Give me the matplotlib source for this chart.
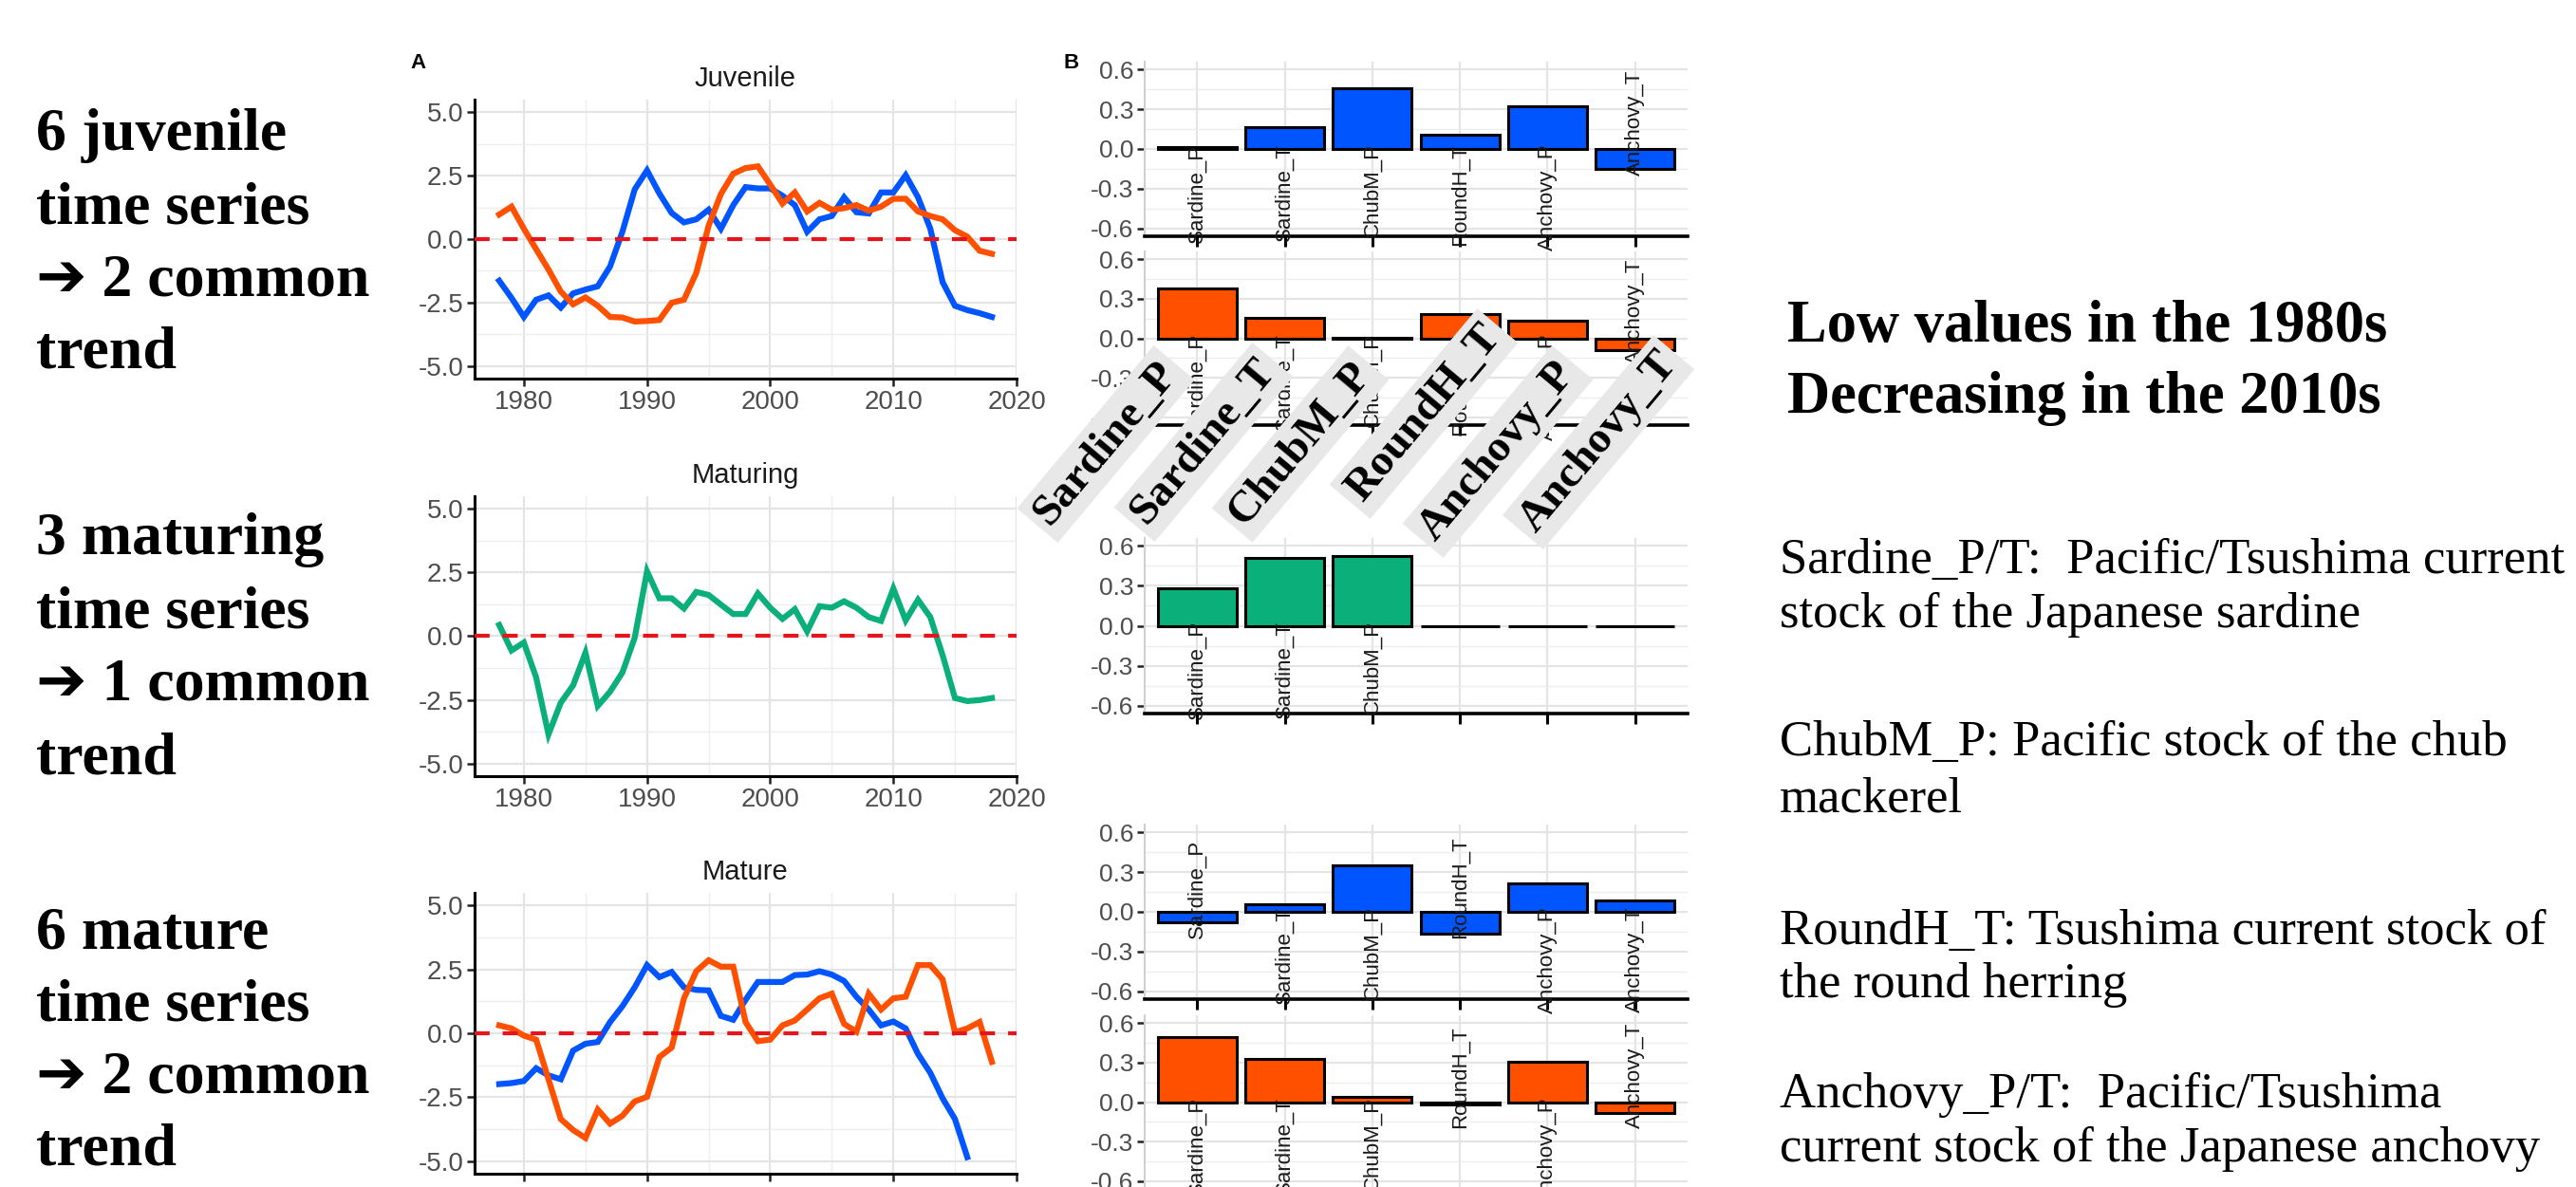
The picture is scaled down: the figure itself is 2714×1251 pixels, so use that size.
import numpy as np
import matplotlib
matplotlib.use("Agg")
import matplotlib.pyplot as plt

plt.rcParams['axes.unicode_minus'] = False
plt.rcParams['font.family'] = ['Liberation Sans', 'DejaVu Sans']

W, H = 2714, 1251
BLUE = '#0055FF'
ORANGE = '#FF5000'
GREEN = '#0AAF7A'
RED = '#E8141C'

# ---- data ----
years = list(range(1978, 2019))

juv_trend1 = [-1.64, -2.32, -3.07, -2.39, -2.22, -2.70, -2.14, -1.99, -1.86, -1.08,
              0.29, 1.96, 2.71, 1.80, 1.03, 0.66, 0.78, 1.16, 0.41, 1.34,
              2.05, 2.00, 2.00, 1.71, 1.34, 0.29, 0.78, 0.91, 1.65, 1.06,
              1.01, 1.84, 1.84, 2.52, 1.65, 0.41, -1.70, -2.63, -2.80, -2.92, -3.07]
juv_trend2 = [0.97, 1.28, 0.41, -0.40, -1.20, -2.07, -2.57, -2.30, -2.63, -3.07,
              -3.09, -3.25, -3.23, -3.19, -2.51, -2.39, -1.33, 0.53, 1.78, 2.58,
              2.80, 2.87, 2.15, 1.40, 1.84, 1.09, 1.43, 1.16, 1.22, 1.34,
              1.12, 1.28, 1.59, 1.59, 1.09, 0.91, 0.78, 0.35, 0.10, -0.46, -0.58]
mat_trend1 = [0.44, -0.56, -0.25, -1.62, -3.86, -2.61, -1.93, -0.65, -2.74, -2.18,
              -1.43, -0.06, 2.55, 1.49, 1.49, 1.09, 1.74, 1.62, 1.24, 0.87,
              0.87, 1.68, 1.12, 0.68, 1.06, 0.19, 1.18, 1.12, 1.37, 1.12,
              0.75, 0.60, 1.87, 0.62, 1.43, 0.75, -0.75, -2.43, -2.55, -2.51, -2.43]
adu_trend1 = [-1.99, -1.95, -1.87, -1.37, -1.65, -1.80, -0.68, -0.41, -0.34, 0.44,
              1.06, 1.80, 2.67, 2.20, 2.40, 1.80, 1.70, 1.68, 0.68, 0.53,
              1.31, 2.01, 2.01, 2.01, 2.28, 2.30, 2.43, 2.30, 2.05, 1.43,
              0.93, 0.31, 0.46, 0.19, -0.81, -1.55, -2.55, -3.36, -4.85]
adu_trend2 = [0.31, 0.19, -0.09, -0.25, -1.80, -3.36, -3.79, -4.10, -2.99, -3.54,
              -3.23, -2.67, -2.49, -0.93, -0.56, 1.37, 2.43, 2.86, 2.61, 2.61,
              0.44, -0.31, -0.25, 0.31, 0.50, 0.93, 1.37, 1.55, 0.37, 0.06,
              1.55, 0.93, 1.37, 1.43, 2.67, 2.67, 2.11, 0.04, 0.19, 0.44, -1.12]

stocks = ['Sardine_P', 'Sardine_T', 'ChubM_P', 'RoundH_T', 'Anchovy_P', 'Anchovy_T']
juv_load1 = [0.015, 0.167, 0.46, 0.107, 0.32, -0.148]
juv_load2 = [0.376, 0.158, 0.005, 0.187, 0.135, -0.09]
mat_load1 = [0.279, 0.51, 0.522, 0.0, 0.0, 0.0]
adu_load1 = [-0.076, 0.055, 0.348, -0.167, 0.214, 0.086]
adu_load2 = [0.495, 0.331, 0.038, -0.015, 0.31, -0.086]

left_blocks = [['6 juvenile', 'time series', '\u2794 2 common', 'trend'],
               ['3 maturing', 'time series', '\u2794 1 common', 'trend'],
               ['6 mature', 'time series', '\u2794 2 common', 'trend']]
headline = ['Low values in the 1980s', 'Decreasing in the 2010s']
notes = ['Sardine_P/T:  Pacific/Tsushima current', 'stock of the Japanese sardine',
         'ChubM_P: Pacific stock of the chub', 'mackerel',
         'RoundH_T: Tsushima current stock of', 'the round herring',
         'Anchovy_P/T:  Pacific/Tsushima', 'current stock of the Japanese anchovy']


def box(x0, y0, x1, y1):
    return [x0 / W, 1 - y1 / H, (x1 - x0) / W, (y1 - y0) / H]


def style_common(ax, lsize):
    for s in ['top', 'right']:
        ax.spines[s].set_visible(False)
    ax.set_axisbelow(True)
    ax.grid(which='major', color='#E4E4E4', lw=1.6)
    ax.grid(which='minor', color='#EEEEEE', lw=1.0)
    ax.tick_params(which='minor', length=0)
    ax.tick_params(which='major', length=5.5, width=1.8, color='#222222',
                   labelsize=lsize, labelcolor='#4D4D4D', pad=3)


def line_panel(rect, title, series, colors, xlabels=True):
    ax = fig.add_axes(rect)
    for ys, c in zip(series, colors):
        ax.plot(years[:len(ys)], ys, color=c, lw=4.5, solid_joinstyle='miter', zorder=3)
    ax.axhline(0, color=RED, lw=3, dashes=(3.8, 3.3), zorder=4)
    ax.set_xlim(1976, 2020)
    ax.set_ylim(-5.5, 5.5)
    ax.set_xticks([1980, 1990, 2000, 2010, 2020])
    ax.set_xticks([1985, 1995, 2005, 2015], minor=True)
    ax.set_yticks([-5, -2.5, 0, 2.5, 5])
    ax.set_yticks([-3.75, -1.25, 1.25, 3.75], minor=True)
    ax.yaxis.set_major_formatter('{x:.1f}')
    style_common(ax, 20)
    if not xlabels:
        ax.tick_params(axis='x', labelbottom=False)
    for s in ['left', 'bottom']:
        ax.spines[s].set_linewidth(2.2)
        ax.spines[s].set_color('black')
    ax.set_title(title, fontsize=21, pad=10, color='#1A1A1A')
    return ax


def bar_panel(rect, values, color):
    ax = fig.add_axes(rect)
    x = np.arange(1, len(stocks) + 1)
    ax.bar(x, values, width=0.9, color=color, edgecolor='black', lw=2.2, zorder=3)
    for xi, v, name in zip(x, values, stocks):
        if v == 0:
            continue
        if v > 0:
            ax.text(xi, 0.04, name, rotation=90, ha='center', va='top',
                    fontsize=16, color='#1A1A1A', zorder=4)
        else:
            ax.text(xi, -0.2, name, rotation=90, ha='center', va='bottom',
                    fontsize=16, color='#1A1A1A', zorder=4)
    ax.set_xlim(0.4, 6.6)
    ax.set_ylim(-0.66, 0.66)
    ax.set_xticks(x)
    ax.set_xticklabels([])
    ax.set_yticks([-0.6, -0.3, 0, 0.3, 0.6])
    ax.set_yticks([-0.45, -0.15, 0.15, 0.45], minor=True)
    ax.yaxis.set_major_formatter('{x:.1f}')
    style_common(ax, 19)
    ax.tick_params(axis='x', length=8, width=2.2, color='black')
    ax.spines['left'].set_color('#D0D0D0')
    ax.spines['left'].set_linewidth(1.5)
    ax.spines['bottom'].set_color('black')
    ax.spines['bottom'].set_linewidth(2.6)
    return ax


fig = plt.figure(figsize=(W / 100, H / 100), dpi=100)

# panel A: common trends
line_panel(box(500, 105, 1071, 399), 'Juvenile', [juv_trend1, juv_trend2], [BLUE, ORANGE])
line_panel(box(500, 523, 1071, 818), 'Maturing', [mat_trend1], [GREEN])
line_panel(box(500, 941, 1071, 1237), 'Mature', [adu_trend1, adu_trend2], [BLUE, ORANGE],
           xlabels=False)

# panel B: factor loadings
bar_panel(box(1206, 65, 1778, 249), juv_load1, BLUE)
bar_panel(box(1206, 265, 1778, 448), juv_load2, ORANGE)
bar_panel(box(1206, 567, 1778, 752), mat_load1, GREEN)
bar_panel(box(1206, 869, 1778, 1053), adu_load1, BLUE)
bar_panel(box(1206, 1070, 1778, 1253), adu_load2, ORANGE)

fig.text(441 / W, 1 - 67 / H, 'A', fontsize=16, fontweight='bold', ha='center', va='center')
fig.text(1129 / W, 1 - 67 / H, 'B', fontsize=16, fontweight='bold', ha='center', va='center')

# big slanted stock names
label_pos = [(1165, 468), (1268, 466), (1370, 468), (1500, 436), (1578, 476), (1684, 466)]
for (cx, cy), name in zip(label_pos, stocks):
    fig.text(cx / W, 1 - cy / H, name, rotation=50, ha='center', va='center',
             rotation_mode='anchor', fontsize=34, fontweight='bold',
             family='Liberation Serif', zorder=10,
             bbox=dict(facecolor='#E8E8E8', edgecolor='none', pad=5))

# left annotations
serif = ['Liberation Serif', 'DejaVu Sans']
block_base = [[158, 235, 312, 388], [584, 661, 738, 815], [1000, 1076, 1152, 1228]]
for lines, bases in zip(left_blocks, block_base):
    for s, yb in zip(lines, bases):
        fig.text(38 / W, 1 - yb / H, s, fontsize=46, fontweight='bold',
                 family=serif, va='baseline', ha='left')

# right annotations
for s, yb in zip(headline, [360, 435]):
    fig.text(1883 / W, 1 - yb / H, s, fontsize=45, fontweight='bold',
             family=serif, va='baseline', ha='left')
for s, yb in zip(notes, [604, 661, 796, 855, 995, 1051, 1167, 1224]):
    fig.text(1875 / W, 1 - yb / H, s, fontsize=38, family=serif,
             va='baseline', ha='left')

fig.savefig('out.png', dpi=100, facecolor='white')
